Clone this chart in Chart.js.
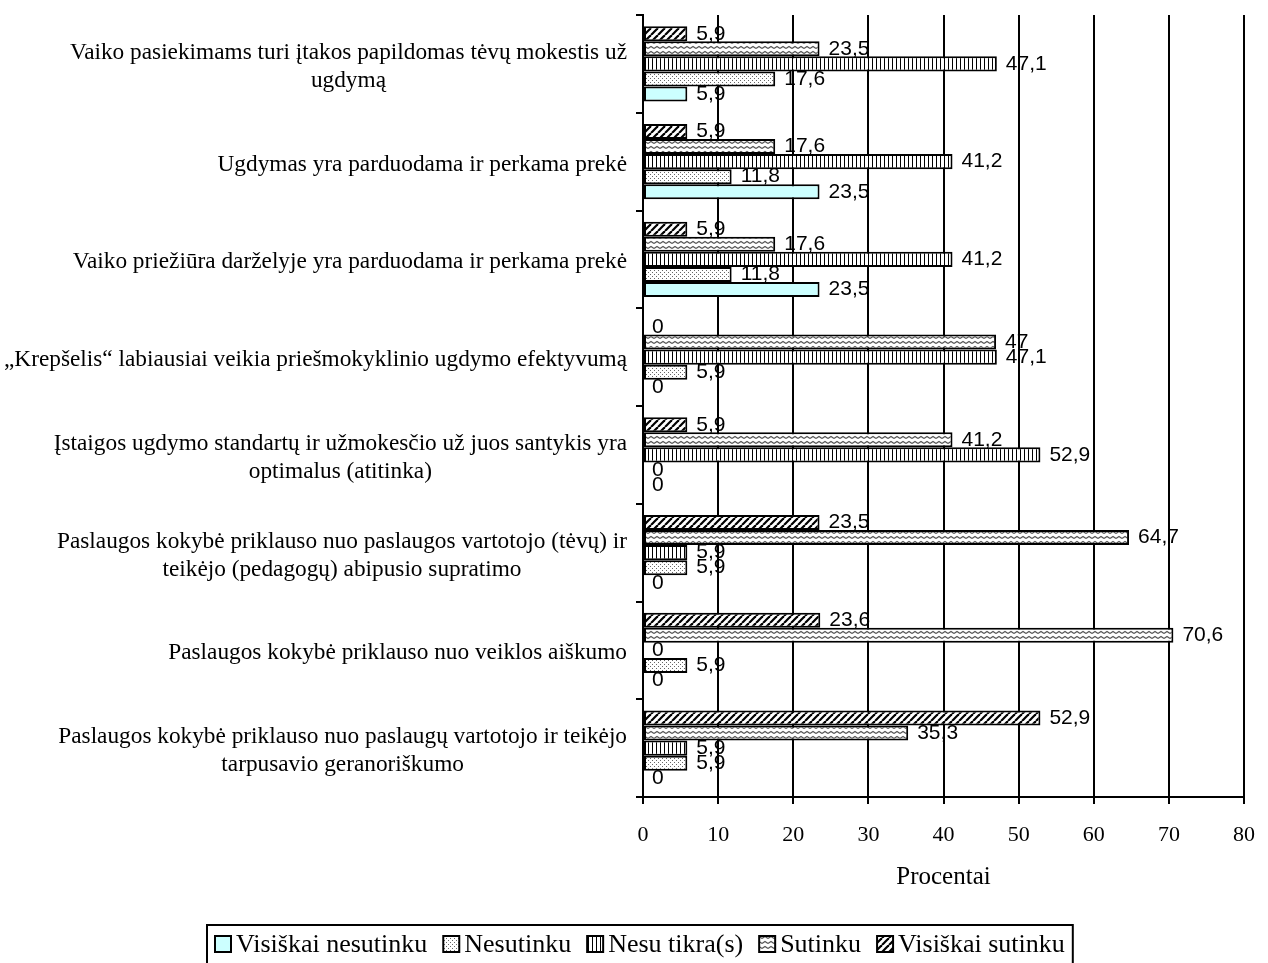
<!DOCTYPE html>
<html>
<head>
<meta charset="utf-8">
<script src="https://cdn.jsdelivr.net/npm/chart.js@4/dist/chart.umd.min.js"></script>
<style>
  body { margin: 0; background: #fff; }
  canvas { display: block; }
</style>
</head>
<body>
<canvas id="chart" width="1268" height="963"></canvas>
<script>
// Category labels (top to bottom), each split in lines as in the original
const categories = [
    ['Vaiko pasiekimams turi įtakos papildomas tėvų mokestis už', 'ugdymą'],
    ['Ugdymas yra parduodama ir perkama prekė'],
    ['Vaiko priežiūra darželyje yra parduodama ir perkama prekė'],
    ['„Krepšelis“ labiausiai veikia priešmokyklinio ugdymo efektyvumą'],
    ['Įstaigos ugdymo standartų ir užmokesčio už juos santykis yra', 'optimalus (atitinka)'],
    ['Paslaugos kokybė priklauso nuo paslaugos vartotojo (tėvų) ir', 'teikėjo (pedagogų) abipusio supratimo'],
    ['Paslaugos kokybė priklauso nuo veiklos aiškumo'],
    ['Paslaugos kokybė priklauso nuo paslaugų vartotojo ir teikėjo', 'tarpusavio geranoriškumo']
];

// Series values (percent), same order as categories
const visiskaiSutinku    = [5.9, 5.9, 5.9, 0, 5.9, 23.5, 23.6, 52.9];
const sutinku            = [23.5, 17.6, 17.6, 47, 41.2, 64.7, 70.6, 35.3];
const nesuTikra          = [47.1, 41.2, 41.2, 47.1, 52.9, 5.9, 0, 5.9];
const nesutinku          = [17.6, 11.8, 11.8, 5.9, 0, 5.9, 5.9, 5.9];
const visiskaiNesutinku  = [5.9, 23.5, 23.5, 0, 0, 0, 0, 0];

const xTicks = [0, 10, 20, 30, 40, 50, 60, 70, 80];

// Fill patterns
function makePattern(w, h, draw) {
    const c = document.createElement('canvas');
    c.width = w;
    c.height = h;
    const g = c.getContext('2d');
    g.fillStyle = '#ffffff';
    g.fillRect(0, 0, w, h);
    draw(g);
    return document.getElementById('chart').getContext('2d').createPattern(c, 'repeat');
}

const diagPattern = makePattern(7, 7, g => {
    g.strokeStyle = '#000';
    g.lineWidth = 2.2;
    [-7, 0, 7].forEach(o => {
        g.beginPath();
        g.moveTo(o, 7);
        g.lineTo(o + 7, 0);
        g.stroke();
    });
});

const zigzagPattern = makePattern(6, 5, g => {
    g.strokeStyle = '#555';
    g.lineWidth = 1.2;
    g.beginPath();
    g.moveTo(0, 3.5);
    g.lineTo(3, 1.5);
    g.lineTo(6, 3.5);
    g.stroke();
});

const vlinePattern = makePattern(4, 1, g => {
    g.fillStyle = '#000';
    g.fillRect(0, 0, 1, 1);
});

const dotPattern = makePattern(4, 4, g => {
    g.fillStyle = '#666';
    g.fillRect(0, 0, 1, 1);
    g.fillRect(2, 2, 1, 1);
});

const serif = '"Liberation Serif", "Times New Roman", serif';

function fmt(v) {
    return String(v).replace('.', ',');
}

// Value labels at the bar ends
const valueLabels = {
    id: 'valueLabels',
    afterDatasetsDraw(chart) {
        const ctx = chart.ctx;
        ctx.save();
        ctx.font = '21px "Liberation Sans", Arial, sans-serif';
        ctx.fillStyle = '#000';
        ctx.textAlign = 'left';
        ctx.textBaseline = 'middle';
        chart.data.datasets.forEach((ds, i) => {
            chart.getDatasetMeta(i).data.forEach((bar, j) => {
                ctx.fillText(fmt(ds.data[j]), bar.x + 9, bar.y);
            });
        });
        ctx.restore();
    }
};

// Category labels: each block right aligned, lines centred within the block
const categoryLabels = {
    id: 'categoryLabels',
    afterDraw(chart) {
        const ctx = chart.ctx;
        const yScale = chart.scales.y;
        const right = 627;
        const lineH = 28;
        ctx.save();
        ctx.font = '23.3px ' + serif;
        ctx.fillStyle = '#000';
        ctx.textAlign = 'center';
        ctx.textBaseline = 'middle';
        categories.forEach((lines, i) => {
            const widest = Math.max(...lines.map(l => ctx.measureText(l).width));
            const cx = right - widest / 2;
            const cy = yScale.getPixelForTick(i) + 3;
            lines.forEach((l, k) => {
                ctx.fillText(l, cx, cy + (k - (lines.length - 1) / 2) * lineH);
            });
        });
        ctx.restore();
    }
};

// Legend in a frame, drawn in the original order
const frameLegend = {
    id: 'frameLegend',
    afterDraw(chart) {
        const ctx = chart.ctx;
        const items = chart.data.datasets.slice().reverse();
        const sw = 16, gap = 5, itemGap = 16, margin = 8, cy = 944;
        ctx.save();
        ctx.font = '26px ' + serif;
        const widths = items.map(ds => ctx.measureText(ds.label).width);
        const total = widths.reduce((a, w) => a + sw + gap + w, 0) + itemGap * (items.length - 1) + margin * 2;
        const left = Math.round(640 - total / 2);
        ctx.strokeStyle = '#000';
        ctx.lineWidth = 2;
        ctx.strokeRect(left, 925, total, 60);
        let x = left + margin;
        ctx.textBaseline = 'middle';
        ctx.textAlign = 'left';
        items.forEach((ds, i) => {
            ctx.fillStyle = ds.backgroundColor;
            ctx.fillRect(x, cy - sw / 2, sw, sw);
            ctx.lineWidth = 2;
            ctx.strokeRect(x, cy - sw / 2, sw, sw);
            ctx.fillStyle = '#000';
            ctx.fillText(ds.label, x + sw + gap, cy + 1);
            x += sw + gap + widths[i] + itemGap;
        });
        ctx.restore();
    }
};

new Chart(document.getElementById('chart'), {
    type: 'bar',
    data: {
        labels: categories.map(c => c.join(' ')),
        datasets: [
            { label: 'Visiškai sutinku', data: visiskaiSutinku, backgroundColor: diagPattern },
            { label: 'Sutinku', data: sutinku, backgroundColor: zigzagPattern },
            { label: 'Nesu tikra(s)', data: nesuTikra, backgroundColor: vlinePattern },
            { label: 'Nesutinku', data: nesutinku, backgroundColor: dotPattern },
            { label: 'Visiškai nesutinku', data: visiskaiNesutinku, backgroundColor: '#ccffff' }
        ].map(ds => Object.assign(ds, {
            borderColor: '#000',
            borderWidth: 2,
            borderSkipped: false,
            barPercentage: 1.0,
            categoryPercentage: 0.77
        }))
    },
    options: {
        indexAxis: 'y',
        responsive: false,
        animation: false,
        layout: { padding: { top: 15, right: 24, left: 0, bottom: 39 } },
        plugins: {
            legend: { display: false },
            tooltip: { enabled: false }
        },
        scales: {
            x: {
                min: 0,
                max: 80,
                afterBuildTicks: scale => {
                    scale.ticks = xTicks.map(v => ({ value: v }));
                },
                afterFit: scale => {
                    scale.height = 127;
                    scale.paddingLeft = 0;
                    scale.paddingRight = 0;
                },
                ticks: {
                    color: '#000',
                    font: { family: serif, size: 22 },
                    padding: 18
                },
                grid: {
                    color: '#000',
                    lineWidth: 2,
                    drawTicks: true,
                    tickLength: 7
                },
                border: { display: true, color: '#000', width: 2 },
                title: {
                    display: true,
                    text: 'Procentai',
                    color: '#000',
                    font: { family: serif, size: 25 },
                    padding: { top: 0, bottom: 32 }
                }
            },
            y: {
                afterFit: scale => { scale.width = 643; },
                ticks: { callback: () => '' },
                grid: {
                    color: '#000',
                    lineWidth: 2,
                    drawOnChartArea: false,
                    drawTicks: true,
                    tickLength: 7
                },
                border: { display: true, color: '#000', width: 2 }
            }
        }
    },
    plugins: [valueLabels, categoryLabels, frameLegend]
});
</script>
</body>
</html>
